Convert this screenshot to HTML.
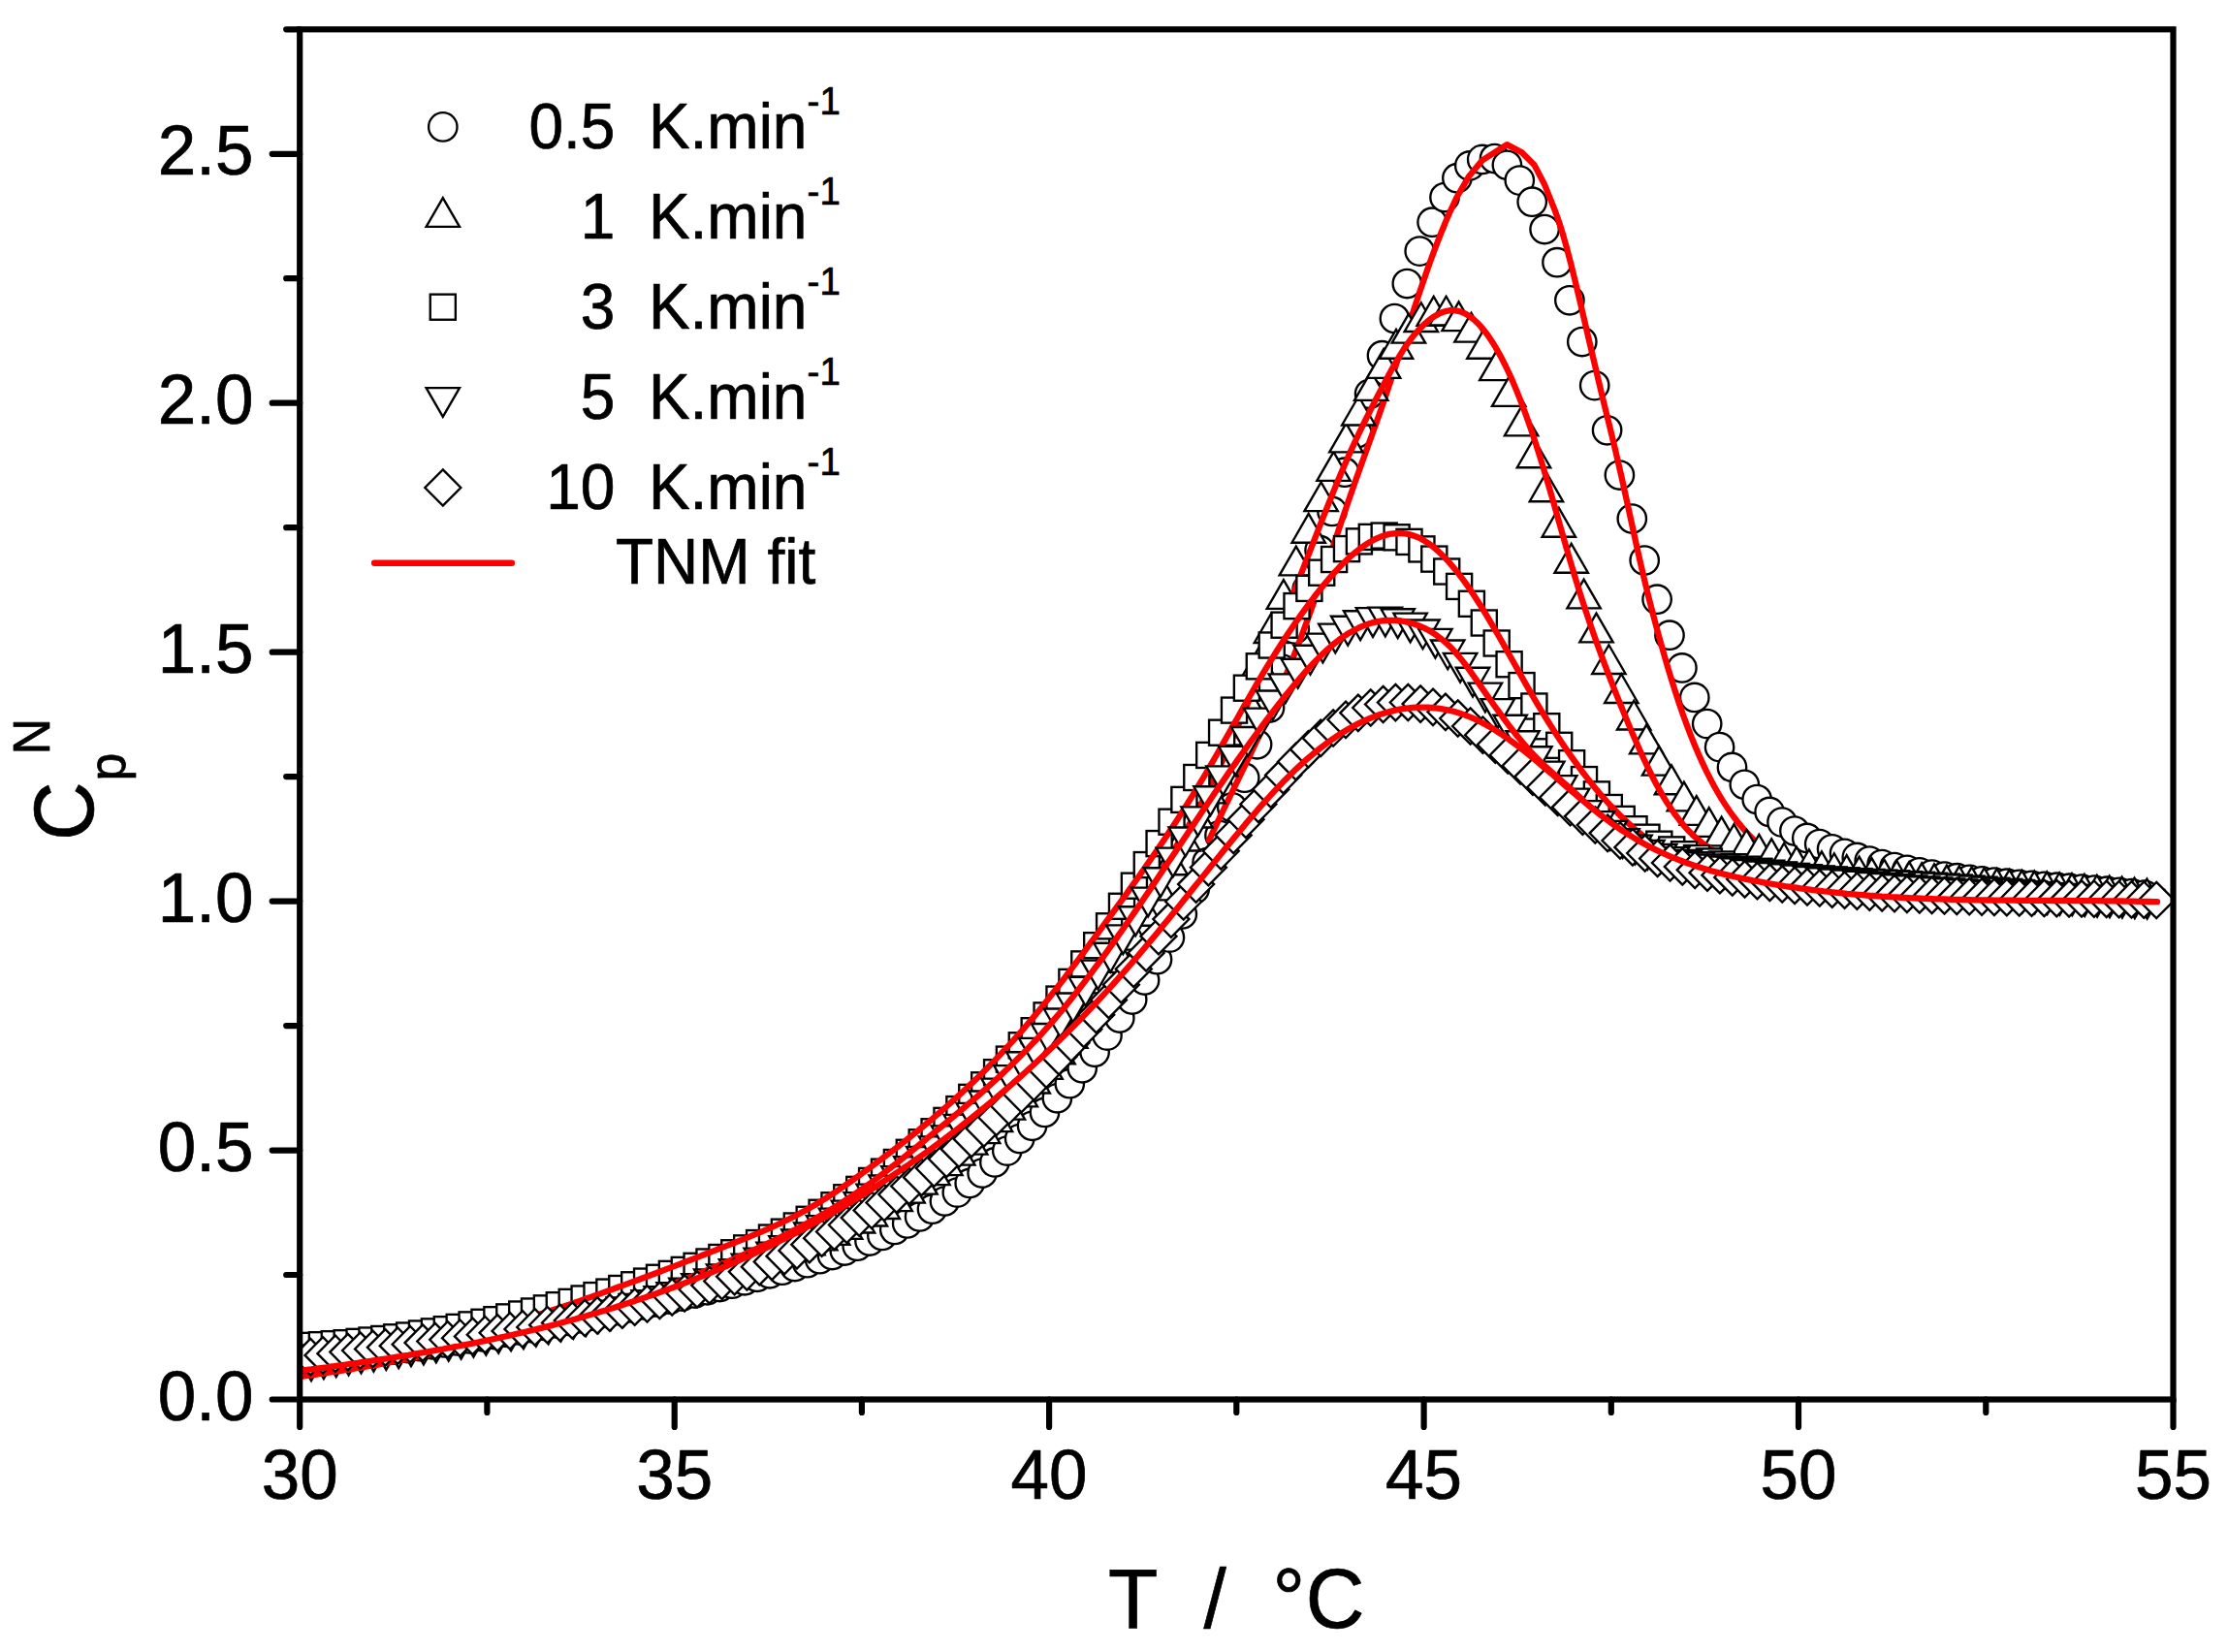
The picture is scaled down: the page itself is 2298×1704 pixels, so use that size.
<!DOCTYPE html>
<html><head><meta charset="utf-8"><title>Cp vs T</title>
<style>html,body{margin:0;padding:0;background:#fff}svg{display:block}text{font-family:"Liberation Sans",sans-serif;fill:#000;stroke:#000;stroke-width:.7px;stroke-linejoin:round}.m{fill:#fff;stroke:#000;stroke-width:2.35;stroke-linejoin:miter}.f{fill:none;stroke:#f00;stroke-width:6.3;stroke-linejoin:round;stroke-linecap:round}.ax{stroke:#000;stroke-width:6.2;stroke-linecap:round;fill:none}</style></head><body>
<svg width="2298" height="1704" viewBox="0 0 2298 1704">
<rect width="2298" height="1704" fill="#fff"/>
<defs>
<g id="circ" class="m"><circle r="14.7"/></g>
<g id="sq" class="m"><rect x="-13.05" y="-13.05" width="26.1" height="26.1"/></g>
<g id="utri" class="m"><path d="M0 -19.86 L17.20 9.93 L-17.20 9.93 Z"/></g>
<g id="dtri" class="m"><path d="M0 19.86 L17.20 -9.93 L-17.20 -9.93 Z"/></g>
<g id="dia" class="m"><path d="M0 -18.7 L18.5 0 L0 18.7 L-18.5 0 Z"/></g>
<clipPath id="cp"><rect x="309.2" y="30.3" width="1932.3" height="1413.2"/></clipPath>
</defs>
<g clip-path="url(#cp)">
<g>
<use href="#circ" x="304.1" y="1404.3"/><use href="#circ" x="317" y="1403"/><use href="#circ" x="329.9" y="1401.6"/><use href="#circ" x="342.8" y="1400.2"/><use href="#circ" x="355.7" y="1398.7"/><use href="#circ" x="368.6" y="1397.2"/><use href="#circ" x="381.4" y="1395.6"/><use href="#circ" x="394.3" y="1393.9"/><use href="#circ" x="407.2" y="1392.2"/><use href="#circ" x="420.1" y="1390.5"/><use href="#circ" x="433" y="1388.7"/><use href="#circ" x="445.9" y="1386.8"/><use href="#circ" x="458.8" y="1384.9"/><use href="#circ" x="471.7" y="1382.9"/><use href="#circ" x="484.6" y="1380.9"/><use href="#circ" x="497.5" y="1378.8"/><use href="#circ" x="510.3" y="1376.6"/><use href="#circ" x="523.2" y="1374.4"/><use href="#circ" x="536.1" y="1372.1"/><use href="#circ" x="549" y="1369.8"/><use href="#circ" x="561.9" y="1367.4"/><use href="#circ" x="574.8" y="1365"/><use href="#circ" x="587.7" y="1362.5"/><use href="#circ" x="600.6" y="1359.9"/><use href="#circ" x="613.5" y="1357.3"/><use href="#circ" x="626.4" y="1354.6"/><use href="#circ" x="639.2" y="1351.8"/><use href="#circ" x="652.1" y="1349"/><use href="#circ" x="665" y="1346.1"/><use href="#circ" x="677.9" y="1343.2"/><use href="#circ" x="690.8" y="1340.2"/><use href="#circ" x="703.7" y="1337.1"/><use href="#circ" x="716.6" y="1334"/><use href="#circ" x="729.5" y="1330.8"/><use href="#circ" x="742.4" y="1327.5"/><use href="#circ" x="755.2" y="1324.2"/><use href="#circ" x="768.1" y="1320.8"/><use href="#circ" x="781" y="1317.3"/><use href="#circ" x="793.9" y="1313.8"/><use href="#circ" x="806.8" y="1310.2"/><use href="#circ" x="819.7" y="1306.5"/><use href="#circ" x="832.6" y="1302.7"/><use href="#circ" x="845.5" y="1298.7"/><use href="#circ" x="858.4" y="1294.5"/><use href="#circ" x="871.3" y="1290"/><use href="#circ" x="884.2" y="1285.2"/><use href="#circ" x="897" y="1280"/><use href="#circ" x="909.9" y="1274.4"/><use href="#circ" x="922.8" y="1268.4"/><use href="#circ" x="935.7" y="1261.9"/><use href="#circ" x="948.6" y="1254.9"/><use href="#circ" x="961.5" y="1247.2"/><use href="#circ" x="974.4" y="1239"/><use href="#circ" x="987.3" y="1230.1"/><use href="#circ" x="1000.2" y="1220.4"/><use href="#circ" x="1013.1" y="1210"/><use href="#circ" x="1025.9" y="1198.9"/><use href="#circ" x="1038.8" y="1187.1"/><use href="#circ" x="1051.7" y="1174.5"/><use href="#circ" x="1064.6" y="1161.3"/><use href="#circ" x="1077.5" y="1147.4"/><use href="#circ" x="1090.4" y="1132.8"/><use href="#circ" x="1103.3" y="1117.7"/><use href="#circ" x="1116.2" y="1101.8"/><use href="#circ" x="1129.1" y="1085.3"/><use href="#circ" x="1142" y="1068.1"/><use href="#circ" x="1154.8" y="1050"/><use href="#circ" x="1167.7" y="1031"/><use href="#circ" x="1180.6" y="1011"/><use href="#circ" x="1193.5" y="989.7"/><use href="#circ" x="1206.4" y="967.1"/><use href="#circ" x="1219.3" y="942.9"/><use href="#circ" x="1232.2" y="916.9"/><use href="#circ" x="1245.1" y="889.6"/><use href="#circ" x="1258" y="861.5"/><use href="#circ" x="1270.8" y="832.8"/><use href="#circ" x="1283.7" y="802.2"/><use href="#circ" x="1296.6" y="767.8"/><use href="#circ" x="1309.5" y="730"/><use href="#circ" x="1322.4" y="690"/><use href="#circ" x="1335.3" y="648.9"/><use href="#circ" x="1348.2" y="607.8"/><use href="#circ" x="1361.1" y="567.4"/><use href="#circ" x="1374" y="527.4"/><use href="#circ" x="1386.9" y="487.2"/><use href="#circ" x="1399.8" y="446.7"/><use href="#circ" x="1412.6" y="406.3"/><use href="#circ" x="1425.5" y="366.7"/><use href="#circ" x="1438.4" y="328.5"/><use href="#circ" x="1451.3" y="292.5"/><use href="#circ" x="1464.2" y="259.1"/><use href="#circ" x="1477.1" y="229.2"/><use href="#circ" x="1490" y="203.5"/><use href="#circ" x="1502.9" y="183.7"/><use href="#circ" x="1515.8" y="170.9"/><use href="#circ" x="1528.7" y="164.4"/><use href="#circ" x="1541.5" y="163.5"/><use href="#circ" x="1554.4" y="170.3"/><use href="#circ" x="1567.3" y="186.1"/><use href="#circ" x="1580.2" y="208.2"/><use href="#circ" x="1593.1" y="236.5"/><use href="#circ" x="1606" y="270.7"/><use href="#circ" x="1618.9" y="309.8"/><use href="#circ" x="1631.8" y="352.5"/><use href="#circ" x="1644.7" y="397.6"/><use href="#circ" x="1657.6" y="443.8"/><use href="#circ" x="1670.4" y="490"/><use href="#circ" x="1683.3" y="535"/><use href="#circ" x="1696.2" y="578"/><use href="#circ" x="1709.1" y="618.2"/><use href="#circ" x="1722" y="655.2"/><use href="#circ" x="1734.9" y="688.9"/><use href="#circ" x="1747.8" y="719.4"/><use href="#circ" x="1760.7" y="746.6"/><use href="#circ" x="1773.6" y="770.6"/><use href="#circ" x="1786.5" y="791.4"/><use href="#circ" x="1799.3" y="809.3"/><use href="#circ" x="1812.2" y="824.5"/><use href="#circ" x="1825.1" y="837.4"/><use href="#circ" x="1838" y="848.1"/><use href="#circ" x="1850.9" y="857"/><use href="#circ" x="1863.8" y="864.4"/><use href="#circ" x="1876.7" y="870.6"/><use href="#circ" x="1889.6" y="875.8"/><use href="#circ" x="1902.5" y="880.3"/><use href="#circ" x="1915.3" y="884.4"/><use href="#circ" x="1928.2" y="888.1"/><use href="#circ" x="1941.1" y="891.5"/><use href="#circ" x="1954" y="894.5"/><use href="#circ" x="1966.9" y="897.3"/><use href="#circ" x="1979.8" y="899.8"/><use href="#circ" x="1992.7" y="902"/><use href="#circ" x="2005.6" y="904"/><use href="#circ" x="2018.5" y="905.7"/><use href="#circ" x="2031.4" y="907.3"/><use href="#circ" x="2044.2" y="908.8"/><use href="#circ" x="2057.1" y="910.1"/><use href="#circ" x="2070" y="911.2"/><use href="#circ" x="2082.9" y="912.3"/><use href="#circ" x="2095.8" y="913.3"/><use href="#circ" x="2108.7" y="914.3"/><use href="#circ" x="2121.6" y="915.2"/><use href="#circ" x="2134.5" y="916.2"/><use href="#circ" x="2147.4" y="917.1"/><use href="#circ" x="2160.3" y="918.1"/><use href="#circ" x="2173.2" y="919.2"/><use href="#circ" x="2186" y="920.3"/><use href="#circ" x="2198.9" y="921.6"/><use href="#circ" x="2211.8" y="923"/>
</g>
<polyline class="f" points="1247,866.6 1251,858.1 1255,849.7 1259,841.3 1263,833 1267,824.8 1271,816.5 1275,808.3 1279,800.1 1283,791.8 1287,783.5 1291,775.1 1295,766.7 1299,758.2 1303,749.6 1307,740.8 1311,732 1315,723 1319,713.8 1323,704.4 1327,694.9 1331,685.1 1335,675.1 1339,664.8 1343,654.3 1347,643.6 1351,632.6 1355,621.4 1359,610.1 1363,598.6 1367,587 1371,575.3 1375,563.5 1379,551.7 1383,539.8 1387,528 1391,516.3 1395,504.8 1399,493.4 1403,482.1 1407,471 1411,459.9 1415,448.7 1419,437.6 1423,426.2 1427,414.8 1431,403.1 1435,391.1 1439,378.9 1443,366.6 1447,354.2 1451,341.8 1455,329.4 1459,317.1 1463,305 1467,293.2 1471,281.6 1475,270.3 1479,259.3 1483,248.8 1487,238.6 1491,228.9 1495,219.7 1499,211 1502.5,203.5 1515.2,181.7 1528.8,165.4 1554.3,149.1 1569.7,157.2 1582.4,169.9 1593.3,190.8 1604.2,218.2 1608.2,229.5 1612.2,242.3 1616.2,256.6 1620.2,271.9 1624.2,288.1 1628.2,304.8 1632.2,321.9 1636.2,339.1 1640.2,356.2 1644.2,373.3 1648.2,390.3 1652.2,407 1656.2,423.5 1660.2,439.8 1664.2,456.3 1668.2,473.2 1672.2,490.8 1676.2,508.8 1680.2,527.2 1684.2,545.5 1688.2,563.7 1692.2,581.5 1696.2,598.6 1700.2,614.9 1704.2,630.6 1708.2,645.7 1712.2,660.4 1716.2,674.6 1720.2,688.4 1724.2,701.6 1728.2,714.3 1732.2,726.4 1736.2,738 1740.2,748.9 1744.2,759.3 1748.2,769.2 1752.2,778.6 1756.2,787.4 1760.2,795.8 1764.2,803.7 1768.2,811.2 1772.2,818.2 1776.2,824.9 1780.2,831.1 1784.2,837 1788.2,842.5 1792.2,847.7 1796.2,852.6 1800.2,857.2 1804.2,861.5 1808.2,865.6 1812.2,869.4 1816.2,872.9 1820.2,876.3 1824.2,879.5 1828.2,882.5 1832.2,885.4 1836.2,888.1 1840.2,890.7 1844.2,893.2 1848.2,895.5 1852.2,897.7 1856.2,899.8 1860.2,901.8 1864.2,903.6 1868.2,905.4 1872.2,907 1876.2,908.5 1880.2,910 1884.2,911.3 1888.2,912.6 1892.2,913.7 1896.2,914.8 1900.2,915.8 1904.2,916.7 1908.2,917.5 1912.2,918.3 1916.2,919 1920.2,919.6 1924.2,920.2 1928.2,920.7 1932.2,921.2 1936.2,921.6 1940.2,922 1944.2,922.3 1948.2,922.6 1952.2,922.8 1956.2,923.1 1960.2,923.3 1964.2,923.4 1968.2,923.6 1972.2,923.7 1976.2,923.8 1980.2,924 1984.2,924.1 1988.2,924.2 1992.2,924.3 1996.2,924.4 2000.2,924.5 2004.2,924.6 2008.2,924.8 2012.2,924.9 2016.2,925.1 2020.2,925.2 2024.2,925.4 2028.2,925.6 2032.2,925.8 2036.2,926 2040.2,926.2 2044.2,926.4 2048.2,926.6 2052.2,926.8 2056.2,927.1 2060.2,927.3 2064.2,927.5 2068.2,927.7 2072.2,927.9 2076.2,928.2 2080.2,928.4 2084.2,928.6 2088.2,928.8 2092.2,929 2096.2,929.2 2100.2,929.4 2104.2,929.6 2108.2,929.8 2112.2,930 2116.2,930.2 2120.2,930.4 2124.2,930.5 2128.2,930.7 2132.2,930.8 2136.2,930.9 2140.2,931.1 2144.2,931.2 2148.2,931.3 2152.2,931.3 2156.2,931.4 2160.2,931.4 2164.2,931.5 2168.2,931.5 2172.2,931.5 2176.2,931.5 2180.2,931.4 2184.2,931.4 2188.2,931.3 2192.2,931.2 2196.2,931.1 2200.2,930.9 2204.2,930.8 2208.2,930.6 2212.2,930.4 2216.2,930.1 2220.2,929.9 2224.2,929.6 2226,929.5"/>
<g>
<use href="#utri" x="304.2" y="1400.1"/><use href="#utri" x="317.1" y="1398.7"/><use href="#utri" x="330" y="1397.3"/><use href="#utri" x="342.9" y="1395.8"/><use href="#utri" x="355.8" y="1394.4"/><use href="#utri" x="368.7" y="1392.9"/><use href="#utri" x="381.6" y="1391.4"/><use href="#utri" x="394.5" y="1389.8"/><use href="#utri" x="407.5" y="1388.2"/><use href="#utri" x="420.4" y="1386.5"/><use href="#utri" x="433.3" y="1384.8"/><use href="#utri" x="446.2" y="1383"/><use href="#utri" x="459.1" y="1381.2"/><use href="#utri" x="472" y="1379.2"/><use href="#utri" x="484.9" y="1377.2"/><use href="#utri" x="497.8" y="1375.1"/><use href="#utri" x="510.7" y="1372.9"/><use href="#utri" x="523.6" y="1370.6"/><use href="#utri" x="536.5" y="1368.1"/><use href="#utri" x="549.4" y="1365.6"/><use href="#utri" x="562.3" y="1362.9"/><use href="#utri" x="575.2" y="1360.1"/><use href="#utri" x="588.2" y="1357.2"/><use href="#utri" x="601.1" y="1354.1"/><use href="#utri" x="614" y="1350.8"/><use href="#utri" x="626.9" y="1347.4"/><use href="#utri" x="639.8" y="1343.9"/><use href="#utri" x="652.7" y="1340.2"/><use href="#utri" x="665.6" y="1336.3"/><use href="#utri" x="678.5" y="1332.3"/><use href="#utri" x="691.4" y="1328.3"/><use href="#utri" x="704.3" y="1324.2"/><use href="#utri" x="717.2" y="1320.2"/><use href="#utri" x="730.1" y="1316.2"/><use href="#utri" x="743" y="1312.2"/><use href="#utri" x="755.9" y="1308.4"/><use href="#utri" x="768.9" y="1304.6"/><use href="#utri" x="781.8" y="1300.9"/><use href="#utri" x="794.7" y="1297.1"/><use href="#utri" x="807.6" y="1293.1"/><use href="#utri" x="820.5" y="1288.9"/><use href="#utri" x="833.4" y="1284.3"/><use href="#utri" x="846.3" y="1279.4"/><use href="#utri" x="859.2" y="1274"/><use href="#utri" x="872.1" y="1268"/><use href="#utri" x="885" y="1261.6"/><use href="#utri" x="897.9" y="1254.6"/><use href="#utri" x="910.8" y="1247.1"/><use href="#utri" x="923.7" y="1239.2"/><use href="#utri" x="936.6" y="1230.7"/><use href="#utri" x="949.5" y="1221.7"/><use href="#utri" x="962.5" y="1212.2"/><use href="#utri" x="975.4" y="1202.2"/><use href="#utri" x="988.3" y="1191.7"/><use href="#utri" x="1001.2" y="1180.7"/><use href="#utri" x="1014.1" y="1169.2"/><use href="#utri" x="1027" y="1157.2"/><use href="#utri" x="1039.9" y="1144.7"/><use href="#utri" x="1052.8" y="1131.5"/><use href="#utri" x="1065.7" y="1117.6"/><use href="#utri" x="1078.6" y="1102.9"/><use href="#utri" x="1091.5" y="1087.3"/><use href="#utri" x="1104.4" y="1070.8"/><use href="#utri" x="1117.3" y="1053.2"/><use href="#utri" x="1130.2" y="1034.5"/><use href="#utri" x="1143.2" y="1014.4"/><use href="#utri" x="1156.1" y="992.9"/><use href="#utri" x="1169" y="969.7"/><use href="#utri" x="1181.9" y="944.8"/><use href="#utri" x="1194.8" y="918.5"/><use href="#utri" x="1207.7" y="892.3"/><use href="#utri" x="1220.6" y="867.6"/><use href="#utri" x="1233.5" y="843.6"/><use href="#utri" x="1246.4" y="818.4"/><use href="#utri" x="1259.3" y="790.4"/><use href="#utri" x="1272.2" y="758.6"/><use href="#utri" x="1285.1" y="724"/><use href="#utri" x="1298" y="688.5"/><use href="#utri" x="1310.9" y="653.1"/><use href="#utri" x="1323.9" y="618"/><use href="#utri" x="1336.8" y="583.5"/><use href="#utri" x="1349.7" y="549.8"/><use href="#utri" x="1362.6" y="517.2"/><use href="#utri" x="1375.5" y="486"/><use href="#utri" x="1388.4" y="456.4"/><use href="#utri" x="1401.3" y="428.6"/><use href="#utri" x="1414.2" y="403"/><use href="#utri" x="1427.1" y="379.9"/><use href="#utri" x="1440" y="359.8"/><use href="#utri" x="1452.9" y="343.7"/><use href="#utri" x="1465.8" y="332.1"/><use href="#utri" x="1478.7" y="325.8"/><use href="#utri" x="1491.6" y="325.6"/><use href="#utri" x="1504.6" y="331.2"/><use href="#utri" x="1517.5" y="342.7"/><use href="#utri" x="1530.4" y="359.8"/><use href="#utri" x="1543.3" y="382.2"/><use href="#utri" x="1556.2" y="409"/><use href="#utri" x="1569.1" y="439.4"/><use href="#utri" x="1582" y="472.3"/><use href="#utri" x="1594.9" y="507.3"/><use href="#utri" x="1607.8" y="543.8"/><use href="#utri" x="1620.7" y="580.8"/><use href="#utri" x="1633.6" y="617.4"/><use href="#utri" x="1646.5" y="652.5"/><use href="#utri" x="1659.4" y="685.1"/><use href="#utri" x="1672.3" y="715.1"/><use href="#utri" x="1685.2" y="742.6"/><use href="#utri" x="1698.2" y="767.4"/><use href="#utri" x="1711.1" y="789.7"/><use href="#utri" x="1724" y="809.3"/><use href="#utri" x="1736.9" y="826.4"/><use href="#utri" x="1749.8" y="841"/><use href="#utri" x="1762.7" y="852.9"/><use href="#utri" x="1775.6" y="862.4"/><use href="#utri" x="1788.5" y="869.9"/><use href="#utri" x="1801.4" y="875.8"/><use href="#utri" x="1814.3" y="880.8"/><use href="#utri" x="1827.2" y="885.2"/><use href="#utri" x="1840.1" y="889.6"/><use href="#utri" x="1853" y="893.4"/><use href="#utri" x="1865.9" y="896.1"/><use href="#utri" x="1878.9" y="898.2"/><use href="#utri" x="1891.8" y="900.1"/><use href="#utri" x="1904.7" y="901.9"/><use href="#utri" x="1917.6" y="903.5"/><use href="#utri" x="1930.5" y="905"/><use href="#utri" x="1943.4" y="906.5"/><use href="#utri" x="1956.3" y="907.8"/><use href="#utri" x="1969.2" y="909"/><use href="#utri" x="1982.1" y="910.2"/><use href="#utri" x="1995" y="911.3"/><use href="#utri" x="2007.9" y="912.4"/><use href="#utri" x="2020.8" y="913.3"/><use href="#utri" x="2033.7" y="914.3"/><use href="#utri" x="2046.6" y="915.2"/><use href="#utri" x="2059.6" y="916"/><use href="#utri" x="2072.5" y="916.9"/><use href="#utri" x="2085.4" y="917.7"/><use href="#utri" x="2098.3" y="918.5"/><use href="#utri" x="2111.2" y="919.3"/><use href="#utri" x="2124.1" y="920.1"/><use href="#utri" x="2137" y="920.9"/><use href="#utri" x="2149.9" y="921.8"/><use href="#utri" x="2162.8" y="922.6"/><use href="#utri" x="2175.7" y="923.5"/><use href="#utri" x="2188.6" y="924.4"/><use href="#utri" x="2201.5" y="925.4"/><use href="#utri" x="2214.4" y="926.4"/>
</g>
<polyline class="f" points="1180,930 1184,922.5 1188,915.3 1192,908.3 1196,901.4 1200,894.7 1204,888 1208,881.4 1212,874.9 1216,868.3 1220,861.7 1224,855 1228,848.2 1232,841.3 1236,834.2 1240,826.9 1244,819.4 1248,811.6 1252,803.5 1256,795.1 1260,786.5 1264,777.8 1268,768.9 1272,759.9 1276,750.8 1280,741.7 1284,732.4 1288,723.1 1292,713.7 1296,704.3 1300,694.8 1304,685.2 1308,675.6 1312,665.9 1316,656.2 1320,646.5 1324,636.7 1328,626.9 1332,617 1336,607 1340,596.8 1344,586.6 1348,576.4 1352,566.1 1356,555.8 1360,545.6 1364,535.4 1368,525.3 1372,515.3 1376,505.4 1380,495.7 1384,486.2 1388,476.9 1392,467.9 1396,459.1 1400,450.5 1404,442.2 1408,434 1412,426 1416,418.1 1420,410.3 1424,402.6 1428,395 1432,387.5 1436,380.1 1440,373.1 1444,366.3 1448,359.9 1452,354.1 1456,348.7 1460,343.8 1464,339.4 1468,335.4 1472,331.8 1476,328.6 1480,325.9 1484,323.7 1488,322 1492,320.8 1496,320.2 1500,320.2 1504,320.8 1508,322.1 1512,323.9 1516,326.4 1520,329.5 1524,333.2 1528,337.5 1532,342.4 1536,347.9 1540,354 1544,360.7 1548,367.9 1552,375.7 1556,384 1560,392.9 1564,402.4 1568,412.4 1572,422.9 1576,433.9 1580,445.5 1584,457.5 1588,470.1 1592,483.1 1596,496.5 1600,510.2 1604,524.2 1608,538.3 1612,552.3 1616,566.3 1620,580.1 1624,593.5 1628,606.6 1632,619.2 1636,631.4 1640,643.3 1644,654.8 1648,666 1652,676.9 1656,687.6 1660,698 1664,708.3 1668,718.3 1672,728.2 1676,738 1680,747.6 1684,757.1 1688,766.3 1692,775.3 1696,784 1700,792.4 1704,800.5 1708,808.2 1712,815.4 1716,822.3 1720,828.8 1724,834.8 1728,840.5 1732,845.7 1736,850.6 1740,855.2 1744,859.3 1748,863.1 1752,866.5 1756,869.7 1760,872.6 1764,875.3 1768,877.9 1772,880.3 1776,882.6 1780,884.9 1784,887 1788,889 1792,890.9 1796,892.7 1800,894.5 1804,896.1 1808,897.7 1812,899.2 1816,900.7 1820,902 1824,903.3 1828,904.6 1832,905.8 1836,906.9 1840,908 1844,909.1 1848,910.1 1852,911.1 1856,912 1860,912.9 1864,913.8 1868,914.6 1872,915.4 1876,916.2 1880,917 1884,917.7 1888,918.4 1892,919.1 1896,919.7 1900,920.3 1904,920.9 1908,921.4 1912,922 1916,922.5 1920,923 1924,923.4 1928,923.8 1932,924.3 1936,924.6 1940,925 1944,925.4 1948,925.7 1952,926 1956,926.3 1960,926.5 1964,926.8 1968,927 1972,927.2 1976,927.4 1980,927.6 1984,927.7 1988,927.9 1992,928 1996,928.1 2000,928.2 2004,928.3 2008,928.4 2012,928.5 2016,928.5 2020,928.6 2024,928.6 2028,928.6 2032,928.7 2036,928.7 2040,928.7 2044,928.7 2048,928.6 2052,928.6 2056,928.6 2060,928.6 2064,928.5 2068,928.5 2072,928.4 2076,928.4 2080,928.3 2084,928.3 2088,928.2 2092,928.2 2096,928.1 2100,928.1 2104,928 2108,928 2112,927.9 2116,927.9 2120,927.8 2124,927.8 2128,927.7 2132,927.7 2136,927.7 2140,927.7 2144,927.6 2148,927.6 2152,927.6 2156,927.6 2160,927.7 2164,927.7 2168,927.7 2172,927.8 2176,927.8 2180,927.9 2184,928 2188,928.1 2192,928.2 2196,928.3 2200,928.4 2204,928.6 2208,928.8 2212,928.9 2216,929.1 2220,929.3 2224,929.6 2226,929.7"/>
<g>
<use href="#sq" x="306.1" y="1388.5"/><use href="#sq" x="319" y="1387.9"/><use href="#sq" x="331.9" y="1387.2"/><use href="#sq" x="344.8" y="1386.2"/><use href="#sq" x="357.7" y="1385.2"/><use href="#sq" x="370.6" y="1383.9"/><use href="#sq" x="383.5" y="1382.5"/><use href="#sq" x="396.3" y="1381"/><use href="#sq" x="409.2" y="1379.3"/><use href="#sq" x="422.1" y="1377.5"/><use href="#sq" x="435" y="1375.5"/><use href="#sq" x="447.9" y="1373.4"/><use href="#sq" x="460.8" y="1371.2"/><use href="#sq" x="473.7" y="1368.9"/><use href="#sq" x="486.6" y="1366.4"/><use href="#sq" x="499.5" y="1363.8"/><use href="#sq" x="512.4" y="1361.2"/><use href="#sq" x="525.3" y="1358.4"/><use href="#sq" x="538.2" y="1355.5"/><use href="#sq" x="551" y="1352.5"/><use href="#sq" x="563.9" y="1349.4"/><use href="#sq" x="576.8" y="1346.2"/><use href="#sq" x="589.7" y="1342.9"/><use href="#sq" x="602.6" y="1339.5"/><use href="#sq" x="615.5" y="1336.1"/><use href="#sq" x="628.4" y="1332.6"/><use href="#sq" x="641.3" y="1329"/><use href="#sq" x="654.2" y="1325.3"/><use href="#sq" x="667.1" y="1321.6"/><use href="#sq" x="680" y="1317.8"/><use href="#sq" x="692.9" y="1313.9"/><use href="#sq" x="705.8" y="1309.9"/><use href="#sq" x="718.6" y="1305.8"/><use href="#sq" x="731.5" y="1301.5"/><use href="#sq" x="744.4" y="1297"/><use href="#sq" x="757.3" y="1292.3"/><use href="#sq" x="770.2" y="1287.4"/><use href="#sq" x="783.1" y="1282.1"/><use href="#sq" x="796" y="1276.6"/><use href="#sq" x="808.9" y="1270.7"/><use href="#sq" x="821.8" y="1264.5"/><use href="#sq" x="834.7" y="1257.8"/><use href="#sq" x="847.6" y="1250.8"/><use href="#sq" x="860.5" y="1243.3"/><use href="#sq" x="873.3" y="1235.3"/><use href="#sq" x="886.2" y="1226.9"/><use href="#sq" x="899.1" y="1218"/><use href="#sq" x="912" y="1208.7"/><use href="#sq" x="924.9" y="1199"/><use href="#sq" x="937.8" y="1188.8"/><use href="#sq" x="950.7" y="1178.3"/><use href="#sq" x="963.6" y="1167.3"/><use href="#sq" x="976.5" y="1155.9"/><use href="#sq" x="989.4" y="1144.1"/><use href="#sq" x="1002.3" y="1131.9"/><use href="#sq" x="1015.2" y="1119.3"/><use href="#sq" x="1028.1" y="1106.2"/><use href="#sq" x="1040.9" y="1092.6"/><use href="#sq" x="1053.8" y="1078.3"/><use href="#sq" x="1066.7" y="1063.2"/><use href="#sq" x="1079.6" y="1047.4"/><use href="#sq" x="1092.5" y="1030.6"/><use href="#sq" x="1105.4" y="1012.9"/><use href="#sq" x="1118.3" y="994.4"/><use href="#sq" x="1131.2" y="975.2"/><use href="#sq" x="1144.1" y="955.3"/><use href="#sq" x="1157" y="934.8"/><use href="#sq" x="1169.9" y="913.7"/><use href="#sq" x="1182.8" y="892.1"/><use href="#sq" x="1195.6" y="870.1"/><use href="#sq" x="1208.5" y="847.7"/><use href="#sq" x="1221.4" y="824.9"/><use href="#sq" x="1234.3" y="802"/><use href="#sq" x="1247.2" y="778.9"/><use href="#sq" x="1260.1" y="755.7"/><use href="#sq" x="1273" y="732.6"/><use href="#sq" x="1285.9" y="709.7"/><use href="#sq" x="1298.8" y="687.3"/><use href="#sq" x="1311.7" y="665.5"/><use href="#sq" x="1324.6" y="644.7"/><use href="#sq" x="1337.5" y="625.1"/><use href="#sq" x="1350.4" y="606.9"/><use href="#sq" x="1363.2" y="590.7"/><use href="#sq" x="1376.1" y="577"/><use href="#sq" x="1389" y="566.1"/><use href="#sq" x="1401.9" y="558.4"/><use href="#sq" x="1414.8" y="553.9"/><use href="#sq" x="1427.7" y="552.6"/><use href="#sq" x="1440.6" y="554.3"/><use href="#sq" x="1453.5" y="558.9"/><use href="#sq" x="1466.4" y="566.4"/><use href="#sq" x="1479.3" y="576.6"/><use href="#sq" x="1492.2" y="589.5"/><use href="#sq" x="1505.1" y="604.9"/><use href="#sq" x="1517.9" y="622.8"/><use href="#sq" x="1530.8" y="642.5"/><use href="#sq" x="1543.7" y="663.5"/><use href="#sq" x="1556.6" y="685.2"/><use href="#sq" x="1569.5" y="707.1"/><use href="#sq" x="1582.4" y="728.5"/><use href="#sq" x="1595.3" y="749.2"/><use href="#sq" x="1608.2" y="768.8"/><use href="#sq" x="1621.1" y="787.2"/><use href="#sq" x="1634" y="804.1"/><use href="#sq" x="1646.9" y="819.4"/><use href="#sq" x="1659.8" y="833"/><use href="#sq" x="1672.7" y="844.9"/><use href="#sq" x="1685.5" y="855.2"/><use href="#sq" x="1698.4" y="863.7"/><use href="#sq" x="1711.3" y="870.7"/><use href="#sq" x="1724.2" y="876.4"/><use href="#sq" x="1737.1" y="881.2"/><use href="#sq" x="1750" y="885.1"/><use href="#sq" x="1762.9" y="888.5"/><use href="#sq" x="1775.8" y="891.5"/><use href="#sq" x="1788.7" y="894.2"/><use href="#sq" x="1801.6" y="896.7"/><use href="#sq" x="1814.5" y="898.8"/><use href="#sq" x="1827.4" y="900.7"/><use href="#sq" x="1840.2" y="902.4"/><use href="#sq" x="1853.1" y="903.9"/><use href="#sq" x="1866" y="905.2"/><use href="#sq" x="1878.9" y="906.4"/><use href="#sq" x="1891.8" y="907.4"/><use href="#sq" x="1904.7" y="908.3"/><use href="#sq" x="1917.6" y="909.1"/><use href="#sq" x="1930.5" y="909.9"/><use href="#sq" x="1943.4" y="910.6"/><use href="#sq" x="1956.3" y="911.3"/><use href="#sq" x="1969.2" y="912.1"/><use href="#sq" x="1982.1" y="912.8"/><use href="#sq" x="1995" y="913.7"/><use href="#sq" x="2007.8" y="914.6"/><use href="#sq" x="2020.7" y="915.5"/><use href="#sq" x="2033.6" y="916.6"/><use href="#sq" x="2046.5" y="917.7"/><use href="#sq" x="2059.4" y="918.8"/><use href="#sq" x="2072.3" y="919.9"/><use href="#sq" x="2085.2" y="921"/><use href="#sq" x="2098.1" y="922.1"/><use href="#sq" x="2111" y="923.1"/><use href="#sq" x="2123.9" y="924.1"/><use href="#sq" x="2136.8" y="925"/><use href="#sq" x="2149.7" y="925.8"/><use href="#sq" x="2162.5" y="926.5"/><use href="#sq" x="2175.4" y="927.1"/><use href="#sq" x="2188.3" y="927.5"/><use href="#sq" x="2201.2" y="927.8"/><use href="#sq" x="2214.1" y="927.9"/>
</g>
<polyline class="f" points="309.2,1411.6 313.2,1411.2 317.2,1410.8 321.2,1410.3 325.2,1409.9 329.2,1409.4 333.2,1408.9 337.2,1408.3 341.2,1407.8 345.2,1407.2 349.2,1406.6 353.2,1406 357.2,1405.4 361.2,1404.8 365.2,1404.1 369.2,1403.5 373.2,1402.8 377.2,1402.1 381.2,1401.4 385.2,1400.6 389.2,1399.9 393.2,1399.1 397.2,1398.3 401.2,1397.5 405.2,1396.7 409.2,1395.9 413.2,1395 417.2,1394.2 421.2,1393.3 425.2,1392.4 429.2,1391.5 433.2,1390.6 437.2,1389.6 441.2,1388.7 445.2,1387.7 449.2,1386.7 453.2,1385.7 457.2,1384.7 461.2,1383.7 465.2,1382.7 469.2,1381.6 473.2,1380.6 477.2,1379.5 481.2,1378.4 485.2,1377.3 489.2,1376.2 493.2,1375.1 497.2,1373.9 501.2,1372.8 505.2,1371.6 509.2,1370.5 513.2,1369.3 517.2,1368.1 521.2,1366.9 525.2,1365.7 529.2,1364.4 533.2,1363.2 537.2,1361.9 541.2,1360.7 545.2,1359.4 549.2,1358.1 553.2,1356.9 557.2,1355.6 561.2,1354.3 565.2,1352.9 569.2,1351.6 573.2,1350.3 577.2,1348.9 581.2,1347.6 585.2,1346.2 589.2,1344.9 593.2,1343.5 597.2,1342.1 601.2,1340.7 605.2,1339.3 609.2,1337.9 613.2,1336.5 617.2,1335.1 621.2,1333.6 625.2,1332.2 629.2,1330.7 633.2,1329.3 637.2,1327.8 641.2,1326.4 645.2,1324.9 649.2,1323.4 653.2,1322 657.2,1320.5 661.2,1319 665.2,1317.5 669.2,1316 673.2,1314.5 677.2,1313 681.2,1311.5 685.2,1309.9 689.2,1308.4 693.2,1306.9 697.2,1305.4 701.2,1303.8 705.2,1302.3 709.2,1300.7 713.2,1299.2 717.2,1297.6 721.2,1296.1 725.2,1294.5 729.2,1293 733.2,1291.4 737.2,1289.8 741.2,1288.3 745.2,1286.7 749.2,1285.1 753.2,1283.6 757.2,1282 761.2,1280.4 765.2,1278.8 769.2,1277.2 773.2,1275.6 777.2,1273.9 781.2,1272.3 785.2,1270.6 789.2,1268.9 793.2,1267.1 797.2,1265.3 801.2,1263.5 805.2,1261.6 809.2,1259.7 813.2,1257.7 817.2,1255.7 821.2,1253.7 825.2,1251.5 829.2,1249.4 833.2,1247.1 837.2,1244.8 841.2,1242.5 845.2,1240 849.2,1237.6 853.2,1235 857.2,1232.4 861.2,1229.8 865.2,1227.1 869.2,1224.4 873.2,1221.7 877.2,1218.9 881.2,1216 885.2,1213.2 889.2,1210.3 893.2,1207.4 897.2,1204.5 901.2,1201.5 905.2,1198.5 909.2,1195.6 913.2,1192.5 917.2,1189.5 921.2,1186.5 925.2,1183.4 929.2,1180.3 933.2,1177.1 937.2,1174 941.2,1170.8 945.2,1167.6 949.2,1164.3 953.2,1161 957.2,1157.7 961.2,1154.3 965.2,1150.9 969.2,1147.5 973.2,1144 977.2,1140.5 981.2,1136.9 985.2,1133.3 989.2,1129.7 993.2,1126 997.2,1122.2 1001.2,1118.4 1005.2,1114.6 1009.2,1110.7 1013.2,1106.8 1017.2,1102.8 1021.2,1098.7 1025.2,1094.6 1029.2,1090.4 1033.2,1086.2 1037.2,1081.9 1041.2,1077.5 1045.2,1073.1 1049.2,1068.7 1053.2,1064.1 1057.2,1059.5 1061.2,1054.8 1065.2,1050.1 1069.2,1045.2 1073.2,1040.4 1077.2,1035.4 1081.2,1030.4 1085.2,1025.3 1089.2,1020.2 1093.2,1015 1097.2,1009.8 1101.2,1004.5 1105.2,999.2 1109.2,993.9 1113.2,988.5 1117.2,983.1 1121.2,977.7 1125.2,972.2 1129.2,966.8 1133.2,961.3 1137.2,955.8 1141.2,950.3 1145.2,944.9 1149.2,939.4 1153.2,933.8 1157.2,928.3 1161.2,922.8 1165.2,917.2 1169.2,911.6 1173.2,906 1177.2,900.3 1181.2,894.6 1185.2,888.8 1189.2,883 1193.2,877.2 1197.2,871.3 1201.2,865.4 1205.2,859.3 1209.2,853.3 1213.2,847.1 1217.2,840.9 1221.2,834.6 1225.2,828.3 1229.2,821.9 1233.2,815.3 1237.2,808.7 1241.2,802 1245.2,795.3 1249.2,788.4 1253.2,781.5 1257.2,774.5 1261.2,767.4 1265.2,760.3 1269.2,753.2 1273.2,746.1 1277.2,739 1281.2,731.8 1285.2,724.8 1289.2,717.7 1293.2,710.8 1297.2,703.9 1301.2,697.1 1305.2,690.4 1309.2,683.8 1313.2,677.4 1317.2,671 1321.2,664.7 1325.2,658.6 1329.2,652.6 1333.2,646.7 1337.2,640.8 1341.2,635.2 1345.2,629.6 1349.2,624.1 1353.2,618.8 1357.2,613.5 1361.2,608.5 1365.2,603.5 1369.2,598.7 1373.2,594.1 1377.2,589.6 1381.2,585.3 1385.2,581.3 1389.2,577.4 1393.2,573.7 1397.2,570.3 1401.2,567.1 1405.2,564.1 1409.2,561.4 1413.2,558.9 1417.2,556.7 1421.2,554.8 1425.2,553.2 1429.2,551.9 1433.2,550.9 1437.2,550.3 1441.2,549.9 1445.2,550 1449.2,550.3 1453.2,551.1 1457.2,552.2 1461.2,553.7 1465.2,555.5 1469.2,557.8 1473.2,560.4 1477.2,563.3 1481.2,566.6 1485.2,570.3 1489.2,574.2 1493.2,578.4 1497.2,583 1501.2,587.8 1505.2,592.8 1509.2,598.1 1513.2,603.7 1517.2,609.5 1521.2,615.5 1525.2,621.7 1529.2,628 1533.2,634.6 1537.2,641.3 1541.2,648.1 1545.2,655 1549.2,662 1553.2,669.1 1557.2,676.2 1561.2,683.3 1565.2,690.4 1569.2,697.5 1573.2,704.6 1577.2,711.6 1581.2,718.5 1585.2,725.3 1589.2,732 1593.2,738.5 1597.2,745 1601.2,751.3 1605.2,757.5 1609.2,763.6 1613.2,769.6 1617.2,775.4 1621.2,781.1 1625.2,786.7 1629.2,792.2 1633.2,797.5 1637.2,802.7 1641.2,807.8 1645.2,812.7 1649.2,817.5 1653.2,822.1 1657.2,826.6 1661.2,831 1665.2,835.2 1669.2,839.3 1673.2,843.3 1677.2,847.1 1681.2,850.7 1685.2,854.3 1689.2,857.7 1693.2,861 1697.2,864.1 1701.2,867.2 1705.2,870.1 1709.2,872.9 1713.2,875.6 1717.2,878.2 1721.2,880.7 1725.2,883.1 1729.2,885.3 1733.2,887.5 1737.2,889.6 1741.2,891.6 1745.2,893.5 1749.2,895.4 1753.2,897.1 1757.2,898.8 1761.2,900.4 1765.2,901.9 1769.2,903.3 1773.2,904.7 1777.2,906 1781.2,907.3 1785.2,908.4 1789.2,909.5 1793.2,910.6 1797.2,911.6 1801.2,912.5 1805.2,913.4 1809.2,914.3 1813.2,915.1 1817.2,915.8 1821.2,916.5 1825.2,917.1 1829.2,917.8 1833.2,918.3 1837.2,918.9 1841.2,919.4 1845.2,919.8 1849.2,920.3 1853.2,920.7 1857.2,921 1861.2,921.4 1865.2,921.7 1869.2,922 1873.2,922.3 1877.2,922.6 1881.2,922.8 1885.2,923.1 1889.2,923.3 1893.2,923.5 1897.2,923.7 1901.2,923.9 1905.2,924.1 1909.2,924.3 1913.2,924.5 1917.2,924.7 1921.2,924.9 1925.2,925 1929.2,925.2 1933.2,925.4 1937.2,925.6 1941.2,925.7 1945.2,925.9 1949.2,926 1953.2,926.2 1957.2,926.3 1961.2,926.5 1965.2,926.6 1969.2,926.8 1973.2,926.9 1977.2,927 1981.2,927.2 1985.2,927.3 1989.2,927.4 1993.2,927.5 1997.2,927.6 2001.2,927.8 2005.2,927.9 2009.2,928 2013.2,928.1 2017.2,928.2 2021.2,928.3 2025.2,928.3 2029.2,928.4 2033.2,928.5 2037.2,928.6 2041.2,928.7 2045.2,928.8 2049.2,928.8 2053.2,928.9 2057.2,929 2061.2,929 2065.2,929.1 2069.2,929.1 2073.2,929.2 2077.2,929.3 2081.2,929.3 2085.2,929.3 2089.2,929.4 2093.2,929.4 2097.2,929.5 2101.2,929.5 2105.2,929.5 2109.2,929.6 2113.2,929.6 2117.2,929.6 2121.2,929.6 2125.2,929.7 2129.2,929.7 2133.2,929.7 2137.2,929.7 2141.2,929.7 2145.2,929.7 2149.2,929.7 2153.2,929.7 2157.2,929.7 2161.2,929.7 2165.2,929.7 2169.2,929.7 2173.2,929.7 2177.2,929.7 2181.2,929.7 2185.2,929.7 2189.2,929.7 2193.2,929.7 2197.2,929.7 2201.2,929.6 2205.2,929.6 2209.2,929.6 2213.2,929.6 2217.2,929.5 2221.2,929.5 2225.2,929.5 2226,929.5"/>
<g>
<use href="#dtri" x="308.1" y="1406.3"/><use href="#dtri" x="321" y="1404.3"/><use href="#dtri" x="333.9" y="1402.3"/><use href="#dtri" x="346.7" y="1400.4"/><use href="#dtri" x="359.6" y="1398.5"/><use href="#dtri" x="372.5" y="1396.6"/><use href="#dtri" x="385.4" y="1394.8"/><use href="#dtri" x="398.3" y="1393"/><use href="#dtri" x="411.2" y="1391.2"/><use href="#dtri" x="424" y="1389.3"/><use href="#dtri" x="436.9" y="1387.5"/><use href="#dtri" x="449.8" y="1385.6"/><use href="#dtri" x="462.7" y="1383.8"/><use href="#dtri" x="475.6" y="1381.8"/><use href="#dtri" x="488.4" y="1379.8"/><use href="#dtri" x="501.3" y="1377.8"/><use href="#dtri" x="514.2" y="1375.7"/><use href="#dtri" x="527.1" y="1373.4"/><use href="#dtri" x="540" y="1371.2"/><use href="#dtri" x="552.9" y="1368.8"/><use href="#dtri" x="565.7" y="1366.2"/><use href="#dtri" x="578.6" y="1363.6"/><use href="#dtri" x="591.5" y="1360.9"/><use href="#dtri" x="604.4" y="1358"/><use href="#dtri" x="617.3" y="1354.9"/><use href="#dtri" x="630.2" y="1351.7"/><use href="#dtri" x="643" y="1348.4"/><use href="#dtri" x="655.9" y="1344.8"/><use href="#dtri" x="668.8" y="1341.1"/><use href="#dtri" x="681.7" y="1337.2"/><use href="#dtri" x="694.6" y="1333.1"/><use href="#dtri" x="707.4" y="1328.7"/><use href="#dtri" x="720.3" y="1324.1"/><use href="#dtri" x="733.2" y="1319.3"/><use href="#dtri" x="746.1" y="1314.3"/><use href="#dtri" x="759" y="1309"/><use href="#dtri" x="771.9" y="1303.5"/><use href="#dtri" x="784.7" y="1297.6"/><use href="#dtri" x="797.6" y="1291.5"/><use href="#dtri" x="810.5" y="1285.1"/><use href="#dtri" x="823.4" y="1278.4"/><use href="#dtri" x="836.3" y="1271.4"/><use href="#dtri" x="849.1" y="1264.1"/><use href="#dtri" x="862" y="1256.5"/><use href="#dtri" x="874.9" y="1248.5"/><use href="#dtri" x="887.8" y="1240.1"/><use href="#dtri" x="900.7" y="1231.5"/><use href="#dtri" x="913.6" y="1222.4"/><use href="#dtri" x="926.4" y="1213"/><use href="#dtri" x="939.3" y="1203.2"/><use href="#dtri" x="952.2" y="1192.9"/><use href="#dtri" x="965.1" y="1182.3"/><use href="#dtri" x="978" y="1171.3"/><use href="#dtri" x="990.8" y="1159.8"/><use href="#dtri" x="1003.7" y="1147.8"/><use href="#dtri" x="1016.6" y="1135.4"/><use href="#dtri" x="1029.5" y="1122.5"/><use href="#dtri" x="1042.4" y="1109.1"/><use href="#dtri" x="1055.3" y="1095.2"/><use href="#dtri" x="1068.1" y="1080.8"/><use href="#dtri" x="1081" y="1065.9"/><use href="#dtri" x="1093.9" y="1050.4"/><use href="#dtri" x="1106.8" y="1034.4"/><use href="#dtri" x="1119.7" y="1017.7"/><use href="#dtri" x="1132.5" y="1000.5"/><use href="#dtri" x="1145.4" y="982.7"/><use href="#dtri" x="1158.3" y="964.3"/><use href="#dtri" x="1171.2" y="945.2"/><use href="#dtri" x="1184.1" y="925.5"/><use href="#dtri" x="1197" y="905.2"/><use href="#dtri" x="1209.8" y="884.5"/><use href="#dtri" x="1222.7" y="863.4"/><use href="#dtri" x="1235.6" y="842.3"/><use href="#dtri" x="1248.5" y="821.2"/><use href="#dtri" x="1261.4" y="800.3"/><use href="#dtri" x="1274.2" y="779.8"/><use href="#dtri" x="1287.1" y="759.9"/><use href="#dtri" x="1300" y="740.6"/><use href="#dtri" x="1312.9" y="722.4"/><use href="#dtri" x="1325.8" y="705.3"/><use href="#dtri" x="1338.7" y="689.7"/><use href="#dtri" x="1351.5" y="675.7"/><use href="#dtri" x="1364.4" y="663.5"/><use href="#dtri" x="1377.3" y="653.5"/><use href="#dtri" x="1390.2" y="645.7"/><use href="#dtri" x="1403.1" y="640.2"/><use href="#dtri" x="1416" y="637.1"/><use href="#dtri" x="1428.8" y="636.5"/><use href="#dtri" x="1441.7" y="638.2"/><use href="#dtri" x="1454.6" y="642.5"/><use href="#dtri" x="1467.5" y="649.4"/><use href="#dtri" x="1480.4" y="658.8"/><use href="#dtri" x="1493.2" y="670.4"/><use href="#dtri" x="1506.1" y="683.8"/><use href="#dtri" x="1519" y="698.7"/><use href="#dtri" x="1531.9" y="714.5"/><use href="#dtri" x="1544.8" y="731"/><use href="#dtri" x="1557.7" y="747.7"/><use href="#dtri" x="1570.5" y="764.2"/><use href="#dtri" x="1583.4" y="780.2"/><use href="#dtri" x="1596.3" y="795.6"/><use href="#dtri" x="1609.2" y="810"/><use href="#dtri" x="1622.1" y="823.6"/><use href="#dtri" x="1634.9" y="836"/><use href="#dtri" x="1647.8" y="847.1"/><use href="#dtri" x="1660.7" y="856.8"/><use href="#dtri" x="1673.6" y="865"/><use href="#dtri" x="1686.5" y="871.6"/><use href="#dtri" x="1699.4" y="876.8"/><use href="#dtri" x="1712.2" y="880.9"/><use href="#dtri" x="1725.1" y="884.1"/><use href="#dtri" x="1738" y="886.8"/><use href="#dtri" x="1750.9" y="889.2"/><use href="#dtri" x="1763.8" y="891.4"/><use href="#dtri" x="1776.6" y="893.4"/><use href="#dtri" x="1789.5" y="895.2"/><use href="#dtri" x="1802.4" y="896.9"/><use href="#dtri" x="1815.3" y="898.4"/><use href="#dtri" x="1828.2" y="899.9"/><use href="#dtri" x="1841.1" y="901.2"/><use href="#dtri" x="1853.9" y="902.6"/><use href="#dtri" x="1866.8" y="903.9"/><use href="#dtri" x="1879.7" y="905.2"/><use href="#dtri" x="1892.6" y="906.4"/><use href="#dtri" x="1905.5" y="907.6"/><use href="#dtri" x="1918.3" y="908.8"/><use href="#dtri" x="1931.2" y="910"/><use href="#dtri" x="1944.1" y="911.1"/><use href="#dtri" x="1957" y="912.2"/><use href="#dtri" x="1969.9" y="913.3"/><use href="#dtri" x="1982.8" y="914.3"/><use href="#dtri" x="1995.6" y="915.3"/><use href="#dtri" x="2008.5" y="916.3"/><use href="#dtri" x="2021.4" y="917.3"/><use href="#dtri" x="2034.3" y="918.2"/><use href="#dtri" x="2047.2" y="919.1"/><use href="#dtri" x="2060.1" y="919.9"/><use href="#dtri" x="2072.9" y="920.8"/><use href="#dtri" x="2085.8" y="921.6"/><use href="#dtri" x="2098.7" y="922.3"/><use href="#dtri" x="2111.6" y="923.1"/><use href="#dtri" x="2124.5" y="923.8"/><use href="#dtri" x="2137.3" y="924.4"/><use href="#dtri" x="2150.2" y="925.1"/><use href="#dtri" x="2163.1" y="925.7"/><use href="#dtri" x="2176" y="926.3"/><use href="#dtri" x="2188.9" y="926.8"/><use href="#dtri" x="2201.8" y="927.4"/><use href="#dtri" x="2214.6" y="927.9"/>
</g>
<polyline class="f" points="309.2,1420 313.2,1419.5 317.2,1418.9 321.2,1418.4 325.2,1417.8 329.2,1417.2 333.2,1416.6 337.2,1416 341.2,1415.4 345.2,1414.8 349.2,1414.2 353.2,1413.6 357.2,1412.9 361.2,1412.3 365.2,1411.6 369.2,1411 373.2,1410.3 377.2,1409.6 381.2,1409 385.2,1408.3 389.2,1407.6 393.2,1406.8 397.2,1406.1 401.2,1405.4 405.2,1404.7 409.2,1403.9 413.2,1403.2 417.2,1402.4 421.2,1401.6 425.2,1400.8 429.2,1400 433.2,1399.2 437.2,1398.4 441.2,1397.6 445.2,1396.8 449.2,1395.9 453.2,1395.1 457.2,1394.2 461.2,1393.4 465.2,1392.5 469.2,1391.6 473.2,1390.7 477.2,1389.8 481.2,1388.9 485.2,1388 489.2,1387 493.2,1386.1 497.2,1385.1 501.2,1384.2 505.2,1383.2 509.2,1382.2 513.2,1381.2 517.2,1380.2 521.2,1379.2 525.2,1378.1 529.2,1377.1 533.2,1376 537.2,1375 541.2,1373.9 545.2,1372.8 549.2,1371.7 553.2,1370.6 557.2,1369.5 561.2,1368.4 565.2,1367.2 569.2,1366.1 573.2,1364.9 577.2,1363.8 581.2,1362.6 585.2,1361.4 589.2,1360.2 593.2,1359 597.2,1357.7 601.2,1356.5 605.2,1355.2 609.2,1354 613.2,1352.7 617.2,1351.4 621.2,1350.1 625.2,1348.8 629.2,1347.5 633.2,1346.1 637.2,1344.8 641.2,1343.4 645.2,1342 649.2,1340.6 653.2,1339.3 657.2,1337.8 661.2,1336.4 665.2,1335 669.2,1333.5 673.2,1332.1 677.2,1330.6 681.2,1329.1 685.2,1327.6 689.2,1326.1 693.2,1324.6 697.2,1323 701.2,1321.5 705.2,1319.9 709.2,1318.3 713.2,1316.7 717.2,1315.1 721.2,1313.5 725.2,1311.9 729.2,1310.2 733.2,1308.6 737.2,1306.9 741.2,1305.2 745.2,1303.5 749.2,1301.8 753.2,1300.1 757.2,1298.3 761.2,1296.6 765.2,1294.8 769.2,1293 773.2,1291.2 777.2,1289.4 781.2,1287.6 785.2,1285.7 789.2,1283.8 793.2,1281.9 797.2,1280 801.2,1278 805.2,1276 809.2,1274 813.2,1272 817.2,1269.9 821.2,1267.8 825.2,1265.7 829.2,1263.5 833.2,1261.3 837.2,1259.1 841.2,1256.8 845.2,1254.5 849.2,1252.2 853.2,1249.8 857.2,1247.3 861.2,1244.9 865.2,1242.4 869.2,1239.8 873.2,1237.2 877.2,1234.6 881.2,1231.9 885.2,1229.2 889.2,1226.4 893.2,1223.6 897.2,1220.7 901.2,1217.8 905.2,1214.8 909.2,1211.8 913.2,1208.7 917.2,1205.6 921.2,1202.5 925.2,1199.4 929.2,1196.2 933.2,1193 937.2,1189.7 941.2,1186.5 945.2,1183.2 949.2,1180 953.2,1176.7 957.2,1173.4 961.2,1170.1 965.2,1166.8 969.2,1163.5 973.2,1160.2 977.2,1156.9 981.2,1153.6 985.2,1150.3 989.2,1146.9 993.2,1143.5 997.2,1140.1 1001.2,1136.7 1005.2,1133.3 1009.2,1129.8 1013.2,1126.3 1017.2,1122.7 1021.2,1119.1 1025.2,1115.5 1029.2,1111.8 1033.2,1108.1 1037.2,1104.3 1041.2,1100.5 1045.2,1096.6 1049.2,1092.6 1053.2,1088.6 1057.2,1084.6 1061.2,1080.4 1065.2,1076.2 1069.2,1072 1073.2,1067.6 1077.2,1063.2 1081.2,1058.7 1085.2,1054.1 1089.2,1049.4 1093.2,1044.7 1097.2,1039.9 1101.2,1035 1105.2,1030 1109.2,1024.9 1113.2,1019.8 1117.2,1014.6 1121.2,1009.4 1125.2,1004.1 1129.2,998.7 1133.2,993.3 1137.2,987.8 1141.2,982.3 1145.2,976.7 1149.2,971.1 1153.2,965.4 1157.2,959.7 1161.2,954 1165.2,948.2 1169.2,942.4 1173.2,936.6 1177.2,930.7 1181.2,924.8 1185.2,918.9 1189.2,913 1193.2,907.1 1197.2,901.1 1201.2,895.1 1205.2,889.1 1209.2,883.2 1213.2,877.2 1217.2,871.2 1221.2,865.2 1225.2,859.2 1229.2,853.2 1233.2,847.2 1237.2,841.3 1241.2,835.3 1245.2,829.4 1249.2,823.5 1253.2,817.6 1257.2,811.8 1261.2,805.9 1265.2,800.1 1269.2,794.3 1273.2,788.6 1277.2,782.9 1281.2,777.2 1285.2,771.6 1289.2,766 1293.2,760.5 1297.2,755 1301.2,749.6 1305.2,744.2 1309.2,738.9 1313.2,733.7 1317.2,728.5 1321.2,723.4 1325.2,718.3 1329.2,713.4 1333.2,708.5 1337.2,703.7 1341.2,699 1345.2,694.4 1349.2,689.9 1353.2,685.6 1357.2,681.4 1361.2,677.4 1365.2,673.5 1369.2,669.8 1373.2,666.3 1377.2,663 1381.2,659.9 1385.2,657 1389.2,654.3 1393.2,651.9 1397.2,649.7 1401.2,647.7 1405.2,645.9 1409.2,644.4 1413.2,643 1417.2,641.9 1421.2,641.1 1425.2,640.4 1429.2,640 1433.2,639.8 1437.2,639.8 1441.2,640 1445.2,640.5 1449.2,641.2 1453.2,642.1 1457.2,643.2 1461.2,644.5 1465.2,646.1 1469.2,647.9 1473.2,650 1477.2,652.3 1481.2,654.9 1485.2,657.9 1489.2,661.1 1493.2,664.7 1497.2,668.6 1501.2,672.9 1505.2,677.6 1509.2,682.6 1513.2,687.9 1517.2,693.4 1521.2,699.1 1525.2,704.9 1529.2,710.6 1533.2,716.4 1537.2,722 1541.2,727.7 1545.2,733.2 1549.2,738.7 1553.2,744.1 1557.2,749.3 1561.2,754.5 1565.2,759.5 1569.2,764.3 1573.2,769 1577.2,773.6 1581.2,777.9 1585.2,782 1589.2,786 1593.2,789.8 1597.2,793.5 1601.2,797.1 1605.2,800.6 1609.2,804.1 1613.2,807.6 1617.2,811.1 1621.2,814.7 1625.2,818.3 1629.2,822 1633.2,825.9 1637.2,829.8 1641.2,833.7 1645.2,837.6 1649.2,841.5 1653.2,845.4 1657.2,849.1 1661.2,852.7 1665.2,856.2 1669.2,859.5 1673.2,862.7 1677.2,865.7 1681.2,868.7 1685.2,871.4 1689.2,874.1 1693.2,876.6 1697.2,879.1 1701.2,881.4 1705.2,883.6 1709.2,885.7 1713.2,887.7 1717.2,889.6 1721.2,891.4 1725.2,893.1 1729.2,894.8 1733.2,896.3 1737.2,897.8 1741.2,899.2 1745.2,900.6 1749.2,901.8 1753.2,903.1 1757.2,904.2 1761.2,905.3 1765.2,906.4 1769.2,907.4 1773.2,908.4 1777.2,909.4 1781.2,910.3 1785.2,911.2 1789.2,912 1793.2,912.9 1797.2,913.7 1801.2,914.5 1805.2,915.2 1809.2,916 1813.2,916.7 1817.2,917.4 1821.2,918 1825.2,918.7 1829.2,919.3 1833.2,919.9 1837.2,920.4 1841.2,921 1845.2,921.5 1849.2,922 1853.2,922.5 1857.2,922.9 1861.2,923.4 1865.2,923.8 1869.2,924.2 1873.2,924.6 1877.2,924.9 1881.2,925.3 1885.2,925.6 1889.2,925.9 1893.2,926.2 1897.2,926.5 1901.2,926.7 1905.2,927 1909.2,927.2 1913.2,927.4 1917.2,927.6 1921.2,927.8 1925.2,927.9 1929.2,928.1 1933.2,928.2 1937.2,928.4 1941.2,928.5 1945.2,928.6 1949.2,928.7 1953.2,928.8 1957.2,928.8 1961.2,928.9 1965.2,928.9 1969.2,929 1973.2,929 1977.2,929 1981.2,929 1985.2,929.1 1989.2,929.1 1993.2,929 1997.2,929 2001.2,929 2005.2,929 2009.2,928.9 2013.2,928.9 2017.2,928.9 2021.2,928.8 2025.2,928.8 2029.2,928.7 2033.2,928.7 2037.2,928.6 2041.2,928.5 2045.2,928.5 2049.2,928.4 2053.2,928.3 2057.2,928.3 2061.2,928.2 2065.2,928.1 2069.2,928.1 2073.2,928 2077.2,927.9 2081.2,927.9 2085.2,927.8 2089.2,927.7 2093.2,927.7 2097.2,927.6 2101.2,927.6 2105.2,927.5 2109.2,927.5 2113.2,927.4 2117.2,927.4 2121.2,927.4 2125.2,927.4 2129.2,927.3 2133.2,927.3 2137.2,927.3 2141.2,927.3 2145.2,927.4 2149.2,927.4 2153.2,927.4 2157.2,927.4 2161.2,927.5 2165.2,927.6 2169.2,927.6 2173.2,927.7 2177.2,927.8 2181.2,927.9 2185.2,928 2189.2,928.2 2193.2,928.3 2197.2,928.4 2201.2,928.6 2205.2,928.8 2209.2,929 2213.2,929.2 2217.2,929.4 2221.2,929.7 2225.2,929.9 2226,930"/>
<g>
<use href="#dia" x="307.3" y="1401.4"/><use href="#dia" x="320.2" y="1399.6"/><use href="#dia" x="333" y="1397.9"/><use href="#dia" x="345.9" y="1396.2"/><use href="#dia" x="358.8" y="1394.6"/><use href="#dia" x="371.6" y="1393"/><use href="#dia" x="384.5" y="1391.4"/><use href="#dia" x="397.4" y="1389.8"/><use href="#dia" x="410.2" y="1388.2"/><use href="#dia" x="423.1" y="1386.7"/><use href="#dia" x="436" y="1385.1"/><use href="#dia" x="448.8" y="1383.5"/><use href="#dia" x="461.7" y="1381.8"/><use href="#dia" x="474.5" y="1380.2"/><use href="#dia" x="487.4" y="1378.4"/><use href="#dia" x="500.3" y="1376.7"/><use href="#dia" x="513.1" y="1374.8"/><use href="#dia" x="526" y="1372.9"/><use href="#dia" x="538.9" y="1370.9"/><use href="#dia" x="551.7" y="1368.9"/><use href="#dia" x="564.6" y="1366.7"/><use href="#dia" x="577.5" y="1364.4"/><use href="#dia" x="590.3" y="1362"/><use href="#dia" x="603.2" y="1359.5"/><use href="#dia" x="616.1" y="1356.9"/><use href="#dia" x="628.9" y="1354.1"/><use href="#dia" x="641.8" y="1351.2"/><use href="#dia" x="654.7" y="1348.1"/><use href="#dia" x="667.5" y="1344.8"/><use href="#dia" x="680.4" y="1341.4"/><use href="#dia" x="693.2" y="1337.8"/><use href="#dia" x="706.1" y="1334"/><use href="#dia" x="719" y="1330"/><use href="#dia" x="731.8" y="1325.8"/><use href="#dia" x="744.7" y="1321.4"/><use href="#dia" x="757.6" y="1316.7"/><use href="#dia" x="770.4" y="1311.8"/><use href="#dia" x="783.3" y="1306.7"/><use href="#dia" x="796.2" y="1301.4"/><use href="#dia" x="809" y="1295.7"/><use href="#dia" x="821.9" y="1289.9"/><use href="#dia" x="834.8" y="1283.7"/><use href="#dia" x="847.6" y="1277.2"/><use href="#dia" x="860.5" y="1270.5"/><use href="#dia" x="873.4" y="1263.5"/><use href="#dia" x="886.2" y="1256.1"/><use href="#dia" x="899.1" y="1248.4"/><use href="#dia" x="912" y="1240.5"/><use href="#dia" x="924.8" y="1232.1"/><use href="#dia" x="937.7" y="1223.5"/><use href="#dia" x="950.5" y="1214.4"/><use href="#dia" x="963.4" y="1205.1"/><use href="#dia" x="976.3" y="1195.3"/><use href="#dia" x="989.1" y="1185.2"/><use href="#dia" x="1002" y="1174.7"/><use href="#dia" x="1014.9" y="1163.8"/><use href="#dia" x="1027.7" y="1152.5"/><use href="#dia" x="1040.6" y="1140.8"/><use href="#dia" x="1053.5" y="1128.6"/><use href="#dia" x="1066.3" y="1116.1"/><use href="#dia" x="1079.2" y="1103.1"/><use href="#dia" x="1092.1" y="1089.7"/><use href="#dia" x="1104.9" y="1075.8"/><use href="#dia" x="1117.8" y="1061.5"/><use href="#dia" x="1130.7" y="1046.7"/><use href="#dia" x="1143.5" y="1031.4"/><use href="#dia" x="1156.4" y="1015.7"/><use href="#dia" x="1169.3" y="999.5"/><use href="#dia" x="1182.1" y="982.9"/><use href="#dia" x="1195" y="965.7"/><use href="#dia" x="1207.9" y="948.1"/><use href="#dia" x="1220.7" y="930"/><use href="#dia" x="1233.6" y="912.1"/><use href="#dia" x="1246.4" y="894.7"/><use href="#dia" x="1259.3" y="877.8"/><use href="#dia" x="1272.2" y="861.4"/><use href="#dia" x="1285" y="845.3"/><use href="#dia" x="1297.9" y="829.5"/><use href="#dia" x="1310.8" y="814.2"/><use href="#dia" x="1323.6" y="799.6"/><use href="#dia" x="1336.5" y="785.7"/><use href="#dia" x="1349.4" y="772.9"/><use href="#dia" x="1362.2" y="761.3"/><use href="#dia" x="1375.1" y="751"/><use href="#dia" x="1388" y="742.3"/><use href="#dia" x="1400.8" y="735.3"/><use href="#dia" x="1413.7" y="730"/><use href="#dia" x="1426.6" y="726.5"/><use href="#dia" x="1439.4" y="724.6"/><use href="#dia" x="1452.3" y="724.5"/><use href="#dia" x="1465.1" y="726.1"/><use href="#dia" x="1478" y="729.3"/><use href="#dia" x="1490.9" y="734.3"/><use href="#dia" x="1503.7" y="741"/><use href="#dia" x="1516.6" y="749"/><use href="#dia" x="1529.5" y="758.2"/><use href="#dia" x="1542.3" y="768.2"/><use href="#dia" x="1555.2" y="778.9"/><use href="#dia" x="1568.1" y="789.9"/><use href="#dia" x="1580.9" y="801.1"/><use href="#dia" x="1593.8" y="812"/><use href="#dia" x="1606.7" y="822.5"/><use href="#dia" x="1619.5" y="832.6"/><use href="#dia" x="1632.4" y="842.1"/><use href="#dia" x="1645.3" y="851"/><use href="#dia" x="1658.1" y="859.3"/><use href="#dia" x="1671" y="867"/><use href="#dia" x="1683.9" y="873.9"/><use href="#dia" x="1696.7" y="880"/><use href="#dia" x="1709.6" y="885.4"/><use href="#dia" x="1722.5" y="890"/><use href="#dia" x="1735.3" y="893.9"/><use href="#dia" x="1748.2" y="897.3"/><use href="#dia" x="1761" y="900.2"/><use href="#dia" x="1773.9" y="902.7"/><use href="#dia" x="1786.8" y="904.9"/><use href="#dia" x="1799.6" y="906.8"/><use href="#dia" x="1812.5" y="908.7"/><use href="#dia" x="1825.4" y="910.4"/><use href="#dia" x="1838.2" y="912"/><use href="#dia" x="1851.1" y="913.4"/><use href="#dia" x="1864" y="914.8"/><use href="#dia" x="1876.8" y="916"/><use href="#dia" x="1889.7" y="917.2"/><use href="#dia" x="1902.6" y="918.2"/><use href="#dia" x="1915.4" y="919.2"/><use href="#dia" x="1928.3" y="920.1"/><use href="#dia" x="1941.2" y="920.9"/><use href="#dia" x="1954" y="921.6"/><use href="#dia" x="1966.9" y="922.3"/><use href="#dia" x="1979.8" y="922.9"/><use href="#dia" x="1992.6" y="923.4"/><use href="#dia" x="2005.5" y="923.9"/><use href="#dia" x="2018.3" y="924.3"/><use href="#dia" x="2031.2" y="924.7"/><use href="#dia" x="2044.1" y="925.1"/><use href="#dia" x="2056.9" y="925.4"/><use href="#dia" x="2069.8" y="925.7"/><use href="#dia" x="2082.7" y="925.9"/><use href="#dia" x="2095.5" y="926.2"/><use href="#dia" x="2108.4" y="926.4"/><use href="#dia" x="2121.3" y="926.6"/><use href="#dia" x="2134.1" y="926.8"/><use href="#dia" x="2147" y="927"/><use href="#dia" x="2159.9" y="927.2"/><use href="#dia" x="2172.7" y="927.4"/><use href="#dia" x="2185.6" y="927.7"/><use href="#dia" x="2198.5" y="927.9"/><use href="#dia" x="2211.3" y="928.2"/><use href="#dia" x="2224.2" y="928.5"/>
</g>
<polyline class="f" points="309,1413.9 313,1413.4 317,1412.9 321,1412.4 325,1411.8 329,1411.3 333,1410.8 337,1410.3 341,1409.7 345,1409.2 349,1408.6 353,1408.1 357,1407.5 361,1406.9 365,1406.4 369,1405.8 373,1405.2 377,1404.6 381,1404 385,1403.4 389,1402.8 393,1402.2 397,1401.6 401,1401 405,1400.3 409,1399.7 413,1399.1 417,1398.4 421,1397.8 425,1397.1 429,1396.4 433,1395.7 437,1395.1 441,1394.4 445,1393.6 449,1392.9 453,1392.2 457,1391.5 461,1390.7 465,1390 469,1389.2 473,1388.5 477,1387.7 481,1386.9 485,1386.1 489,1385.3 493,1384.5 497,1383.7 501,1382.9 505,1382 509,1381.2 513,1380.3 517,1379.4 521,1378.5 525,1377.7 529,1376.7 533,1375.8 537,1374.9 541,1374 545,1373 549,1372 553,1371.1 557,1370.1 561,1369.1 565,1368.1 569,1367.1 573,1366 577,1365 581,1363.9 585,1362.8 589,1361.8 593,1360.7 597,1359.5 601,1358.4 605,1357.3 609,1356.1 613,1354.9 617,1353.8 621,1352.6 625,1351.4 629,1350.1 633,1348.9 637,1347.6 641,1346.4 645,1345.1 649,1343.8 653,1342.5 657,1341.1 661,1339.8 665,1338.4 669,1337.1 673,1335.7 677,1334.3 681,1332.8 685,1331.4 689,1329.9 693,1328.5 697,1327 701,1325.5 705,1323.9 709,1322.4 713,1320.8 717,1319.3 721,1317.7 725,1316 729,1314.4 733,1312.8 737,1311.1 741,1309.4 745,1307.7 749,1306 753,1304.2 757,1302.5 761,1300.7 765,1298.9 769,1297.1 773,1295.3 777,1293.4 781,1291.5 785,1289.6 789,1287.7 793,1285.8 797,1283.8 801,1281.8 805,1279.8 809,1277.8 813,1275.8 817,1273.7 821,1271.6 825,1269.5 829,1267.4 833,1265.3 837,1263.1 841,1260.9 845,1258.7 849,1256.5 853,1254.2 857,1251.9 861,1249.6 865,1247.3 869,1245 873,1242.6 877,1240.2 881,1237.8 885,1235.4 889,1232.9 893,1230.4 897,1227.9 901,1225.4 905,1222.8 909,1220.2 913,1217.6 917,1215 921,1212.4 925,1209.7 929,1207 933,1204.2 937,1201.5 941,1198.7 945,1195.9 949,1193.1 953,1190.2 957,1187.4 961,1184.4 965,1181.5 969,1178.6 973,1175.6 977,1172.6 981,1169.5 985,1166.5 989,1163.4 993,1160.2 997,1157.1 1001,1153.9 1005,1150.7 1009,1147.5 1013,1144.2 1017,1141 1021,1137.6 1025,1134.3 1029,1130.9 1033,1127.5 1037,1124.1 1041,1120.6 1045,1117.2 1049,1113.6 1053,1110.1 1057,1106.5 1061,1102.9 1065,1099.2 1069,1095.5 1073,1091.8 1077,1088.1 1081,1084.3 1085,1080.5 1089,1076.6 1093,1072.7 1097,1068.8 1101,1064.8 1105,1060.8 1109,1056.8 1113,1052.7 1117,1048.6 1121,1044.4 1125,1040.2 1129,1036 1133,1031.7 1137,1027.4 1141,1023 1145,1018.6 1149,1014.2 1153,1009.7 1157,1005.2 1161,1000.6 1165,996 1169,991.4 1173,986.7 1177,982 1181,977.2 1185,972.5 1189,967.7 1193,962.9 1197,958 1201,953.1 1205,948.2 1209,943.3 1213,938.4 1217,933.5 1221,928.5 1225,923.5 1229,918.5 1233,913.6 1237,908.6 1241,903.6 1245,898.6 1249,893.6 1253,888.6 1257,883.7 1261,878.7 1265,873.8 1269,868.9 1273,864 1277,859.2 1281,854.4 1285,849.6 1289,844.8 1293,840.2 1297,835.5 1301,830.9 1305,826.4 1309,822 1313,817.6 1317,813.3 1321,809.1 1325,804.9 1329,800.9 1333,797 1337,793.1 1341,789.4 1345,785.7 1349,782.2 1353,778.8 1357,775.5 1361,772.3 1365,769.2 1369,766.2 1373,763.3 1377,760.6 1381,757.9 1385,755.4 1389,753 1393,750.7 1397,748.5 1401,746.4 1405,744.4 1409,742.6 1413,740.9 1417,739.3 1421,737.8 1425,736.4 1429,735.2 1433,734.1 1437,733.1 1441,732.2 1445,731.4 1449,730.8 1453,730.3 1457,729.9 1461,729.7 1465,729.6 1469,729.6 1473,729.7 1477,730 1481,730.4 1485,730.9 1489,731.6 1493,732.4 1497,733.3 1501,734.3 1505,735.5 1509,736.9 1513,738.3 1517,739.9 1521,741.7 1525,743.6 1529,745.6 1533,747.7 1537,750 1541,752.4 1545,755 1549,757.6 1553,760.3 1557,763.2 1561,766.1 1565,769.1 1569,772.2 1573,775.3 1577,778.5 1581,781.8 1585,785.1 1589,788.5 1593,791.9 1597,795.3 1601,798.7 1605,802.2 1609,805.6 1613,809.1 1617,812.6 1621,816 1625,819.4 1629,822.8 1633,826.2 1637,829.5 1641,832.8 1645,836 1649,839.2 1653,842.3 1657,845.3 1661,848.3 1665,851.2 1669,853.9 1673,856.6 1677,859.2 1681,861.7 1685,864.1 1689,866.5 1693,868.8 1697,871 1701,873.1 1705,875.1 1709,877.1 1713,879 1717,880.8 1721,882.6 1725,884.3 1729,885.9 1733,887.5 1737,889 1741,890.5 1745,891.9 1749,893.3 1753,894.6 1757,895.8 1761,897 1765,898.2 1769,899.3 1773,900.4 1777,901.4 1781,902.4 1785,903.4 1789,904.3 1793,905.2 1797,906 1801,906.9 1805,907.7 1809,908.5 1813,909.2 1817,909.9 1821,910.7 1825,911.4 1829,912 1833,912.7 1837,913.3 1841,914 1845,914.6 1849,915.2 1853,915.7 1857,916.3 1861,916.8 1865,917.3 1869,917.9 1873,918.3 1877,918.8 1881,919.3 1885,919.7 1889,920.2 1893,920.6 1897,921 1901,921.4 1905,921.8 1909,922.1 1913,922.5 1917,922.8 1921,923.1 1925,923.5 1929,923.8 1933,924 1937,924.3 1941,924.6 1945,924.8 1949,925.1 1953,925.3 1957,925.5 1961,925.8 1965,926 1969,926.2 1973,926.4 1977,926.5 1981,926.7 1985,926.9 1989,927 1993,927.1 1997,927.3 2001,927.4 2005,927.5 2009,927.6 2013,927.8 2017,927.9 2021,927.9 2025,928 2029,928.1 2033,928.2 2037,928.3 2041,928.3 2045,928.4 2049,928.5 2053,928.5 2057,928.6 2061,928.6 2065,928.6 2069,928.7 2073,928.7 2077,928.7 2081,928.8 2085,928.8 2089,928.8 2093,928.8 2097,928.9 2101,928.9 2105,928.9 2109,928.9 2113,928.9 2117,929 2121,929 2125,929 2129,929 2133,929 2137,929.1 2141,929.1 2145,929.1 2149,929.1 2153,929.1 2157,929.2 2161,929.2 2165,929.2 2169,929.3 2173,929.3 2177,929.3 2181,929.4 2185,929.4 2189,929.5 2193,929.6 2197,929.6 2201,929.7 2205,929.8 2209,929.8 2213,929.9 2217,930 2221,930.1 2225,930.2"/>
</g>
<g class="ax">
<rect x="309.2" y="30.3" width="1932.3" height="1413.2" stroke-linejoin="miter"/>
<path d="M309.2 1443.5 H280.7 M309.2 1315.0 H295.2 M309.2 1186.6 H280.7 M309.2 1058.1 H295.2 M309.2 929.6 H280.7 M309.2 801.1 H295.2 M309.2 672.7 H280.7 M309.2 544.2 H295.2 M309.2 415.7 H280.7 M309.2 287.2 H295.2 M309.2 158.8 H280.7 M309.2 30.3 H295.2 M309.2 1443.5 V1472.0 M502.4 1443.5 V1457.0 M695.7 1443.5 V1472.0 M888.9 1443.5 V1457.0 M1082.1 1443.5 V1472.0 M1275.3 1443.5 V1457.0 M1468.6 1443.5 V1472.0 M1661.8 1443.5 V1457.0 M1855.0 1443.5 V1472.0 M2048.3 1443.5 V1457.0 M2241.5 1443.5 V1472.0"/>
</g>
<text transform="translate(261.5,1464.9) scale(1,1.015)" font-size="71" text-anchor="end">0.0</text>
<text transform="translate(261.5,1208.0) scale(1,1.015)" font-size="71" text-anchor="end">0.5</text>
<text transform="translate(261.5,951.0) scale(1,1.015)" font-size="71" text-anchor="end">1.0</text>
<text transform="translate(261.5,694.1) scale(1,1.015)" font-size="71" text-anchor="end">1.5</text>
<text transform="translate(261.5,437.1) scale(1,1.015)" font-size="71" text-anchor="end">2.0</text>
<text transform="translate(261.5,180.2) scale(1,1.015)" font-size="71" text-anchor="end">2.5</text>
<text transform="translate(309.2,1546.2) scale(1,1.015)" font-size="71" text-anchor="middle">30</text>
<text transform="translate(695.7,1546.2) scale(1,1.015)" font-size="71" text-anchor="middle">35</text>
<text transform="translate(1082.1,1546.2) scale(1,1.015)" font-size="71" text-anchor="middle">40</text>
<text transform="translate(1468.6,1546.2) scale(1,1.015)" font-size="71" text-anchor="middle">45</text>
<text transform="translate(1855.0,1546.2) scale(1,1.015)" font-size="71" text-anchor="middle">50</text>
<text transform="translate(2241.5,1546.2) scale(1,1.015)" font-size="71" text-anchor="middle">55</text>
<text transform="translate(0,1679) scale(1,1.038)" font-size="84"><tspan x="1143">T</tspan><tspan x="1241.5">/</tspan><tspan x="1312.5">°</tspan><tspan x="1346.7">C</tspan></text>
<text transform="translate(96,867) rotate(-90) scale(1,1.038)" font-size="84">C<tspan x="61.5" y="31.31" font-size="52">p</tspan><tspan x="88.5" y="-43.35" font-size="52">N</tspan></text>
<use href="#circ" x="456.8" y="130.9"/>
<text transform="translate(0,153.0) scale(1,1.038)" font-size="64"><tspan x="634.4" text-anchor="end">0.5</tspan><tspan x="668.9" text-anchor="start">K.min</tspan><tspan x="832.6" y="-34.01" font-size="38.4">-1</tspan></text>
<use href="#utri" x="456.8" y="223.9"/>
<text transform="translate(0,245.9) scale(1,1.038)" font-size="64"><tspan x="634.4" text-anchor="end">1</tspan><tspan x="668.9" text-anchor="start">K.min</tspan><tspan x="832.6" y="-34.01" font-size="38.4">-1</tspan></text>
<use href="#sq" x="456.8" y="316.7"/>
<text transform="translate(0,339.0) scale(1,1.038)" font-size="64"><tspan x="634.4" text-anchor="end">3</tspan><tspan x="668.9" text-anchor="start">K.min</tspan><tspan x="832.6" y="-34.01" font-size="38.4">-1</tspan></text>
<use href="#dtri" x="456.8" y="410.0"/>
<text transform="translate(0,432.1) scale(1,1.038)" font-size="64"><tspan x="634.4" text-anchor="end">5</tspan><tspan x="668.9" text-anchor="start">K.min</tspan><tspan x="832.6" y="-34.01" font-size="38.4">-1</tspan></text>
<use href="#dia" x="456.8" y="503.0"/>
<text transform="translate(0,524.8) scale(1,1.038)" font-size="64"><tspan x="634.4" text-anchor="end">10</tspan><tspan x="668.9" text-anchor="start">K.min</tspan><tspan x="832.6" y="-34.01" font-size="38.4">-1</tspan></text>
<path class="f" d="M386.1 580.8 H527.9" style="stroke-width:6.4"/>
<text transform="translate(635.0,602.1) scale(1,1.038)" font-size="64">TNM fit</text>
</svg></body></html>
